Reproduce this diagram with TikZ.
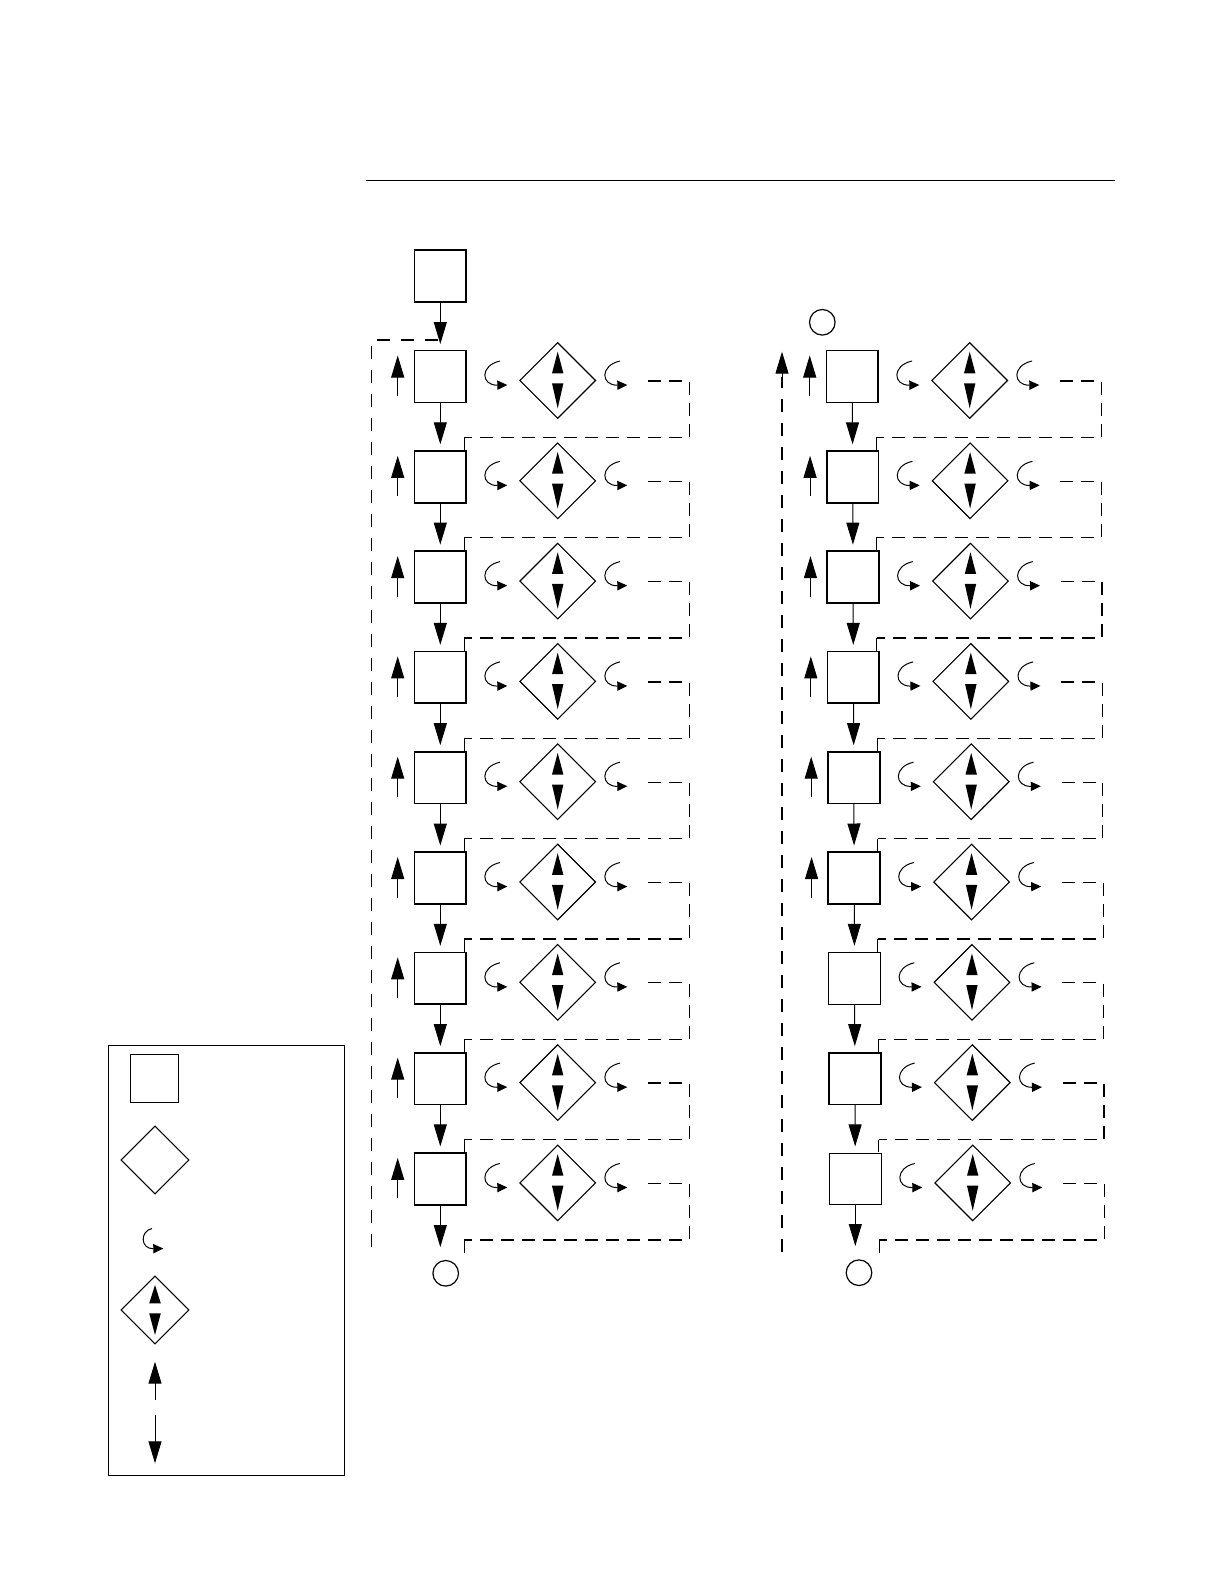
\documentclass[tikz,border=0pt]{standalone}
\usetikzlibrary{arrows.meta,shapes.geometric,calc}
\begin{document}
\begin{tikzpicture}[x=0.5pt,y=-0.5pt,
  boxst/.style={draw,line width=0.85pt,minimum size=25.9pt,inner sep=0pt,outer sep=0pt},
  thinbox/.style={boxst,line width=0.5pt},
  dia/.style={draw,diamond,aspect=1,line width=0.55pt,minimum width=37.8pt,minimum height=37.8pt,inner sep=0pt,outer sep=0pt},
  circ/.style={draw,circle,line width=0.6pt,minimum size=12.8pt,inner sep=0pt},
  arr/.style={line width=0.5pt,-{Triangle[length=11pt,width=6.5pt]}},
  curl/.style={line width=0.5pt,-{Triangle[length=5pt,width=4.6pt]}},
  loopdash/.style={line width=0.65pt,dash pattern=on 6.5pt off 4pt},
  longdash/.style={line width=0.55pt,dash pattern=on 6.5pt off 5.5pt}]
\useasboundingbox (0,0) rectangle (1224,1584);
% top rule
\coordinate (ruleA) at (365.6,180.8);
\coordinate (ruleB) at (1115,180.8);
\draw[line width=0.65pt] (ruleA) -- (ruleB);
% ---------- left column ----------
\node[boxst] (L0) at (440.3,276) {};
\foreach \i in {1,...,9}{
  \pgfmathsetmacro\cy{376.5+100.3*(\i-1)}
  \node[boxst] (L\i) at (440.3,\cy) {};
  \node[dia] (LD\i) at (557.7,\cy+4) {};
  \fill[shift={(LD\i)}] (-5.7,-7.2) -- (0,-28.8) -- (5.7,-7.2) -- cycle;
  \fill[shift={(LD\i)}] (-5.7,2.8) -- (0,27.8) -- (5.7,2.8) -- cycle;
  \draw[curl,shift={(LD\i)}] (-57.7,-19.5) .. controls (-78,-15) and (-77,5) .. (-50.4,4.5);
  \draw[curl,shift={(LD\i)}] (62.3,-19.5) .. controls (42,-15) and (43,5) .. (69.6,4.5);
  \coordinate (La\i) at (648,\cy+4.5);
  \coordinate (Lb\i) at (689.3,\cy+4.5);
  \coordinate (Lc\i) at (689.3,\cy+61);
  \coordinate (Ld\i) at (464,\cy+61);
  \coordinate (Le\i) at (464,\cy+73.6);
  \draw[loopdash] (La\i) -- (Lb\i) -- (Lc\i) -- (Ld\i);
  \draw[line width=0.5pt] (Ld\i) -- (Le\i);
  \coordinate (Lu\i) at (397.7,\cy+19.5);
  \coordinate (Lt\i) at (397.7,\cy-21);
  \draw[arr] (Lu\i) -- (Lt\i);
}
\foreach \i [evaluate=\i as \j using int(\i+1)] in {0,...,8}{
  \draw[arr,shorten >=3.3pt] (L\i) -- (L\j);
}
\coordinate (Lend) at (440.3,1247);
\draw[arr] (L9) -- (Lend);
\node[circ] (LC) at (445.7,1273.3) {};
\coordinate (Ltop) at (438,340);
\coordinate (Lcorner) at (371.7,340);
\coordinate (Lbot) at (371.7,1253);
\draw[longdash] (Ltop) -- (Lcorner) -- (Lbot);
% ---------- right column ----------
\node[circ] (RC0) at (822.3,322.3) {};
\foreach \i in {1,...,9}{
  \pgfmathsetmacro\cy{376.5+100.3*(\i-1)}
  \pgfmathsetmacro\ox{412+3*(\i-1)/8}
  \ifnum\i=7
    \node[thinbox] (R\i) at (440.3+\ox,\cy) {};
  \else\ifnum\i=9
    \node[thinbox] (R\i) at (440.3+\ox,\cy) {};
  \else
    \node[boxst] (R\i) at (440.3+\ox,\cy) {};
  \fi\fi
  \node[dia] (RD\i) at (557.7+\ox,\cy+4) {};
  \fill[shift={(RD\i)}] (-5.7,-7.2) -- (0,-28.8) -- (5.7,-7.2) -- cycle;
  \fill[shift={(RD\i)}] (-5.7,2.8) -- (0,27.8) -- (5.7,2.8) -- cycle;
  \draw[curl,shift={(RD\i)}] (-57.7,-19.5) .. controls (-78,-15) and (-77,5) .. (-50.4,4.5);
  \draw[curl,shift={(RD\i)}] (62.3,-19.5) .. controls (42,-15) and (43,5) .. (69.6,4.5);
  \coordinate (Ra\i) at (648+\ox,\cy+4.5);
  \coordinate (Rb\i) at (689.3+\ox,\cy+4.5);
  \coordinate (Rc\i) at (689.3+\ox,\cy+61);
  \coordinate (Rd\i) at (464+\ox,\cy+61);
  \coordinate (Re\i) at (464+\ox,\cy+73.6);
  \draw[loopdash] (Ra\i) -- (Rb\i) -- (Rc\i) -- (Rd\i);
  \draw[line width=0.5pt] (Rd\i) -- (Re\i);
  \ifnum\i<7
    \coordinate (Ru\i) at (397.7+\ox,\cy+19.5);
    \coordinate (Rt\i) at (397.7+\ox,\cy-21);
    \draw[arr] (Ru\i) -- (Rt\i);
  \fi
}
\foreach \i [evaluate=\i as \j using int(\i+1)] in {1,...,8}{
  \draw[arr,shorten >=3.3pt] (R\i) -- (R\j);
}
\coordinate (Rend) at (855.3,1246);
\draw[arr] (R9) -- (Rend);
\node[circ] (RC) at (859,1272.7) {};
\coordinate (Rbot) at (782,1252);
\coordinate (Rmid) at (782,377);
\coordinate (Rtip) at (782,351.7);
\draw[longdash] (Rbot) -- (Rmid);
\draw[arr] (Rmid) -- (Rtip);
% ---------- legend ----------
\node[draw,line width=0.55pt,minimum width=118.1pt,minimum height=214.9pt,inner sep=0pt] (K0) at (226.4,1260.6) {};
\node[boxst,line width=0.55pt,minimum size=24pt] (K1) at (154.3,1078.3) {};
\node[dia,minimum width=33.8pt,minimum height=33.8pt] (K2) at (155,1160) {};
\draw[curl] (152,1228.5) .. controls (140,1231) and (140,1249) .. (163.3,1248.5);
\node[dia,minimum width=33.8pt,minimum height=33.8pt] (K4) at (155,1310) {};
\fill[shift={(K4)}] (-5.8,-6.7) -- (0,-25) -- (5.8,-6.7) -- cycle;
\fill[shift={(K4)}] (-5.8,3.3) -- (0,25) -- (5.8,3.3) -- cycle;
\coordinate (Kua) at (155,1400);
\coordinate (Kut) at (155,1361.7);
\draw[arr] (Kua) -- (Kut);
\coordinate (Kda) at (155,1415);
\coordinate (Kdt) at (155,1463.3);
\draw[arr] (Kda) -- (Kdt);
\end{tikzpicture}
\end{document}
